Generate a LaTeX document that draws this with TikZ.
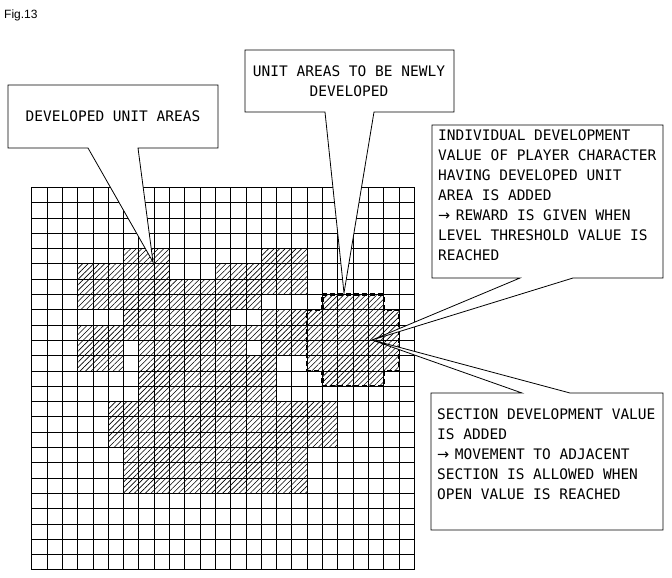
\documentclass[tikz,border=0pt]{standalone}
\usepackage{fontspec}
\setmonofont{DejaVu Sans Mono}
\setsansfont{Liberation Sans}
\newfontfamily\arrowfont{DejaVu Sans}
\newcommand{\myarr}{\makebox[9pt][l]{\arrowfont →}}
\usetikzlibrary{patterns.meta}
\begin{document}
\begin{tikzpicture}[x=1pt,y=-1pt,
  lbl/.style={font=\ttfamily\fontsize{14.5}{20}\selectfont, inner sep=0pt, align=left, anchor=north west},
  callout/.style={draw=black, fill=white, line width=0.8pt, line join=miter},
  hatch/.style={pattern={Lines[angle=45,distance=3.9pt,line width=0.6pt]}},
  gridline/.style={line width=0.8pt}]
\useasboundingbox (0,0) rectangle (672,578);
\node[font=\sffamily\fontsize{12}{12}\selectfont, anchor=west, inner sep=0pt] (fig) at (4,15) {Fig.13};
\begin{scope}[shift={(31.7,187.3)}, x=15.3pt, y=-15.3pt]
  \foreach \r/\a/\b in {4/6/8, 4/15/17, 5/3/8, 5/12/17, 6/3/17, 7/3/14, 7/19/22, 8/6/12, 8/15/23, 9/3/23, 10/3/5, 10/7/13, 10/15/23, 11/3/5, 11/7/15, 11/18/23, 12/7/15, 12/19/22, 13/7/15, 14/5/19, 15/5/19, 16/5/19, 17/6/17, 18/6/17, 19/6/17}
    \fill[hatch] (\a,\r) rectangle ({\b+1},{\r+1});
  \foreach \i in {0,...,25} {
    \draw[gridline] (\i,0) -- (\i,25);
    \draw[gridline] (0,\i) -- (25,\i);
  }
  \draw[line width=2.2pt, dash pattern=on 5pt off 3pt]
    (19,7) -- (23,7) -- (23,8) -- (24,8) -- (24,12) -- (23,12) -- (23,13) -- (19,13) -- (19,12) -- (18,12) -- (18,8) -- (19,8) -- cycle;
\end{scope}
% callout 1
\coordinate (t1) at (153,262);
\draw[callout] (8,85) -- (218,85) -- (218,148) -- (138,148) -- (t1) -- (88,148) -- (8,148) -- cycle;
\node[lbl, anchor=center] (c1) at (113,116) {DEVELOPED UNIT AREAS};
% callout 2
\coordinate (t2) at (344,293);
\draw[callout] (245,50) -- (454,50) -- (454,112) -- (374,112) -- (t2) -- (325,112) -- (245,112) -- cycle;
\node[lbl, anchor=center, align=center] (c2) at (349,81) {UNIT AREAS TO BE NEWLY\\DEVELOPED};
% callout 3
\coordinate (t3) at (372,340);
\draw[callout] (432,125) -- (663,125) -- (663,278) -- (573,278) -- (t3) -- (520,278) -- (432,278) -- cycle;
\node[lbl] (c3) at (438,130) {INDIVIDUAL DEVELOPMENT\\VALUE OF PLAYER CHARACTER\\HAVING DEVELOPED UNIT\\AREA IS ADDED\\\myarr{} REWARD IS GIVEN WHEN\\LEVEL THRESHOLD VALUE IS\\REACHED};
% callout 4
\draw[callout] (431,393) -- (522,393) -- (t3) -- (570,393) -- (663,393) -- (663,530) -- (431,530) -- cycle;
\node[lbl] (c4) at (437,409) {SECTION DEVELOPMENT VALUE\\IS ADDED\\\myarr{} MOVEMENT TO ADJACENT\\SECTION IS ALLOWED WHEN\\OPEN VALUE IS REACHED};
\end{tikzpicture}
\end{document}
